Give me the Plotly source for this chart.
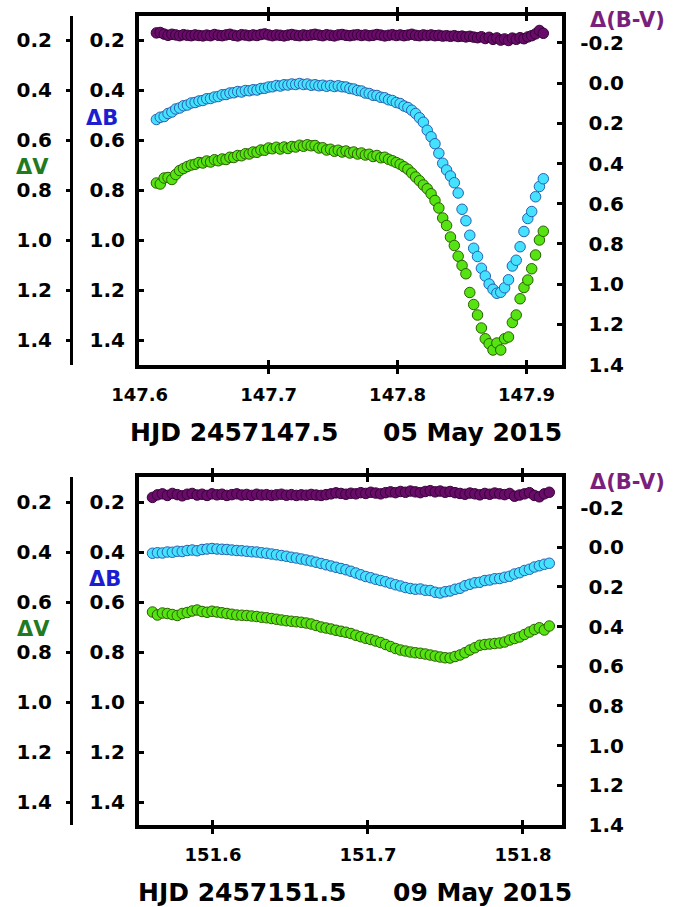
import plotly.graph_objects as go

# ---------------- 05 May 2015 (HJD 2457147.5 + t) ----------------
t_may05 = [147.613, 147.616, 147.619, 147.622, 147.625, 147.628, 147.631, 147.634, 147.637, 147.640,
           147.643, 147.646, 147.649, 147.652, 147.655, 147.658, 147.661, 147.664, 147.667, 147.670,
           147.673, 147.676, 147.679, 147.682, 147.685, 147.688, 147.691, 147.694, 147.697, 147.700,
           147.703, 147.706, 147.709, 147.712, 147.715, 147.718, 147.721, 147.724, 147.727, 147.730,
           147.733, 147.736, 147.739, 147.742, 147.745, 147.748, 147.751, 147.754, 147.757, 147.760,
           147.763, 147.766, 147.769, 147.772, 147.775, 147.778, 147.781, 147.784, 147.787, 147.790,
           147.793, 147.796, 147.799, 147.802, 147.805, 147.808, 147.811, 147.814, 147.817, 147.820,
           147.823, 147.826, 147.829, 147.832, 147.835, 147.838, 147.841, 147.844, 147.847, 147.850,
           147.853, 147.856, 147.859, 147.862, 147.865, 147.868, 147.871, 147.874, 147.877, 147.880,
           147.883, 147.886, 147.889, 147.892, 147.895, 147.898, 147.901, 147.904, 147.907, 147.910,
           147.913]

dB_may05 = [0.518, 0.509, 0.506, 0.494, 0.488, 0.476, 0.472, 0.463, 0.460, 0.452,
            0.450, 0.444, 0.442, 0.435, 0.434, 0.428, 0.426, 0.419, 0.418, 0.412,
            0.411, 0.406, 0.408, 0.402, 0.403, 0.399, 0.400, 0.394, 0.393, 0.388,
            0.387, 0.382, 0.384, 0.379, 0.380, 0.376, 0.378, 0.374, 0.378, 0.376,
            0.381, 0.379, 0.383, 0.381, 0.385, 0.382, 0.386, 0.383, 0.387, 0.388,
            0.394, 0.396, 0.402, 0.404, 0.412, 0.414, 0.421, 0.422, 0.429, 0.431,
            0.439, 0.442, 0.450, 0.454, 0.464, 0.470, 0.481, 0.494, 0.511, 0.529,
            0.561, 0.587, 0.615, 0.653, 0.693, 0.720, 0.744, 0.771, 0.812, 0.877,
            0.923, 0.981, 1.033, 1.066, 1.113, 1.144, 1.176, 1.197, 1.213, 1.209,
            1.191, 1.159, 1.104, 1.081, 1.027, 0.966, 0.914, 0.886, 0.827, 0.786,
            0.755]

dV_may05 = [0.772, 0.776, 0.752, 0.750, 0.758, 0.738, 0.722, 0.714, 0.706, 0.700,
            0.697, 0.690, 0.692, 0.684, 0.688, 0.679, 0.683, 0.676, 0.678, 0.669,
            0.670, 0.662, 0.663, 0.655, 0.656, 0.648, 0.649, 0.640, 0.641, 0.632,
            0.635, 0.629, 0.636, 0.628, 0.634, 0.626, 0.628, 0.621, 0.625, 0.619,
            0.623, 0.622, 0.632, 0.631, 0.640, 0.637, 0.645, 0.641, 0.648, 0.644,
            0.652, 0.648, 0.656, 0.652, 0.660, 0.657, 0.666, 0.662, 0.671, 0.669,
            0.677, 0.683, 0.690, 0.697, 0.707, 0.717, 0.732, 0.748, 0.763, 0.780,
            0.795, 0.815, 0.842, 0.872, 0.912, 0.942, 0.988, 1.022, 1.065, 1.102,
            1.135, 1.210, 1.258, 1.300, 1.352, 1.395, 1.415, 1.440, 1.412, 1.440,
            1.395, 1.388, 1.330, 1.300, 1.235, 1.190, 1.160, 1.115, 1.060, 1.000,
            0.965]

dBV_may05 = [-0.250, -0.252, -0.244, -0.238, -0.243, -0.240, -0.236, -0.241, -0.238, -0.236,
             -0.240, -0.237, -0.235, -0.239, -0.236, -0.242, -0.238, -0.236, -0.240, -0.243,
             -0.238, -0.235, -0.241, -0.239, -0.236, -0.240, -0.237, -0.242, -0.245, -0.240,
             -0.236, -0.240, -0.238, -0.235, -0.239, -0.242, -0.238, -0.236, -0.240, -0.237,
             -0.240, -0.243, -0.239, -0.236, -0.241, -0.238, -0.235, -0.240, -0.242, -0.238,
             -0.236, -0.239, -0.241, -0.237, -0.240, -0.236, -0.238, -0.242, -0.239, -0.235,
             -0.238, -0.241, -0.237, -0.240, -0.236, -0.239, -0.243, -0.238, -0.236, -0.240,
             -0.237, -0.240, -0.236, -0.238, -0.234, -0.236, -0.233, -0.236, -0.232, -0.234,
             -0.230, -0.233, -0.229, -0.226, -0.231, -0.222, -0.228, -0.218, -0.225, -0.214,
             -0.220, -0.212, -0.224, -0.218, -0.226, -0.221, -0.230, -0.236, -0.245, -0.262,
             -0.248]

# ---------------- 09 May 2015 (HJD 2457151.5 + t) ----------------
t_may09 = [151.5610, 151.5642, 151.5674, 151.5706, 151.5738, 151.5770, 151.5802, 151.5834, 151.5866, 151.5898,
           151.5930, 151.5962, 151.5994, 151.6026, 151.6058, 151.6090, 151.6122, 151.6154, 151.6186, 151.6218,
           151.6250, 151.6282, 151.6314, 151.6346, 151.6378, 151.6410, 151.6442, 151.6474, 151.6506, 151.6538,
           151.6570, 151.6602, 151.6634, 151.6666, 151.6698, 151.6730, 151.6762, 151.6794, 151.6826, 151.6858,
           151.6890, 151.6922, 151.6954, 151.6986, 151.7018, 151.7050, 151.7082, 151.7114, 151.7146, 151.7178,
           151.7210, 151.7242, 151.7274, 151.7306, 151.7338, 151.7370, 151.7402, 151.7434, 151.7466, 151.7498,
           151.7530, 151.7562, 151.7594, 151.7626, 151.7658, 151.7690, 151.7722, 151.7754, 151.7786, 151.7818,
           151.7850, 151.7882, 151.7914, 151.7946, 151.7978, 151.8010, 151.8042, 151.8074, 151.8106, 151.8138,
           151.8170]

dB_may09 = [0.405, 0.403, 0.404, 0.400, 0.401, 0.397, 0.398, 0.394, 0.392, 0.395,
            0.390, 0.388, 0.386, 0.388, 0.389, 0.390, 0.392, 0.394, 0.395, 0.397,
            0.399, 0.400, 0.403, 0.405, 0.408, 0.411, 0.414, 0.417, 0.421, 0.424,
            0.428, 0.432, 0.436, 0.441, 0.446, 0.451, 0.456, 0.461, 0.466, 0.471,
            0.477, 0.484, 0.491, 0.498, 0.503, 0.509, 0.514, 0.519, 0.525, 0.531,
            0.536, 0.542, 0.546, 0.549, 0.548, 0.553, 0.554, 0.561, 0.564, 0.559,
            0.556, 0.549, 0.545, 0.535, 0.529, 0.523, 0.521, 0.514, 0.512, 0.507,
            0.506, 0.501, 0.497, 0.488, 0.483, 0.474, 0.469, 0.460, 0.455, 0.449,
            0.445]

dV_may09 = [0.640, 0.652, 0.644, 0.646, 0.650, 0.654, 0.646, 0.642, 0.636, 0.632,
            0.638, 0.641, 0.637, 0.640, 0.643, 0.646, 0.649, 0.652, 0.653, 0.654,
            0.656, 0.658, 0.661, 0.663, 0.666, 0.669, 0.672, 0.675, 0.677, 0.679,
            0.681, 0.684, 0.688, 0.694, 0.700, 0.704, 0.708, 0.713, 0.717, 0.721,
            0.726, 0.733, 0.739, 0.745, 0.750, 0.756, 0.762, 0.770, 0.778, 0.786,
            0.792, 0.796, 0.800, 0.803, 0.805, 0.808, 0.812, 0.816, 0.820, 0.823,
            0.824, 0.818, 0.812, 0.803, 0.792, 0.783, 0.773, 0.770, 0.768, 0.766,
            0.764, 0.760, 0.752, 0.746, 0.740, 0.730, 0.720, 0.710, 0.703, 0.712,
            0.696]

dBV_may09 = [-0.252, -0.265, -0.270, -0.262, -0.272, -0.266, -0.260, -0.268, -0.272, -0.264,
             -0.268, -0.262, -0.270, -0.265, -0.268, -0.262, -0.266, -0.270, -0.264, -0.267,
             -0.262, -0.268, -0.264, -0.266, -0.262, -0.265, -0.268, -0.263, -0.266, -0.262,
             -0.265, -0.263, -0.267, -0.264, -0.262, -0.266, -0.270, -0.275, -0.272, -0.268,
             -0.273, -0.270, -0.276, -0.272, -0.278, -0.274, -0.270, -0.276, -0.280, -0.276,
             -0.282, -0.278, -0.284, -0.280, -0.276, -0.282, -0.286, -0.280, -0.284, -0.278,
             -0.282, -0.276, -0.272, -0.268, -0.274, -0.270, -0.265, -0.272, -0.268, -0.274,
             -0.270, -0.266, -0.272, -0.258, -0.264, -0.270, -0.276, -0.262, -0.255, -0.270,
             -0.278]

# ---------------- axis ticks ----------------
mag_ticks = [0.2, 0.4, 0.6, 0.8, 1.0, 1.2, 1.4]
mag_labels = ["0.2", "0.4", "0.6", "0.8", "1.0", "1.2", "1.4"]
col_ticks = [-0.2, 0.0, 0.2, 0.4, 0.6, 0.8, 1.0, 1.2, 1.4]
col_labels = ["-0.2", "0.0", "0.2", "0.4", "0.6", "0.8", "1.0", "1.2", "1.4"]
x_ticks_may05 = [147.6, 147.7, 147.8, 147.9]
x_ticks_may09 = [151.6, 151.7, 151.8]

W, H = 680, 907
FONT = "DejaVu Sans"
PURPLE = dict(color="#690c69", line=dict(color="#38003a", width=1))
CYAN = dict(color="#44e2ff", line=dict(color="#2a5fb0", width=1))
GREEN = dict(color="#55e312", line=dict(color="#2a6000", width=1))
MSIZE = 10.5

fig = go.Figure()


def add_panel(fig, xa, ya, t, dB, dV, dBV):
    """ya = (dB axis, B-V frame axis, dV axis, B-V label axis)."""
    yb, ybv, yv, ylab = ya
    fig.add_trace(go.Scatter(x=t, y=dBV, xaxis=xa, yaxis=ybv, mode="markers",
                             marker=dict(size=MSIZE, **PURPLE), showlegend=False))
    fig.add_trace(go.Scatter(x=t, y=dB, xaxis=xa, yaxis=yb, mode="markers",
                             marker=dict(size=MSIZE, **CYAN), showlegend=False))
    fig.add_trace(go.Scatter(x=t, y=dV, xaxis=xa, yaxis=yv, mode="markers",
                             marker=dict(size=MSIZE, **GREEN), showlegend=False))
    fig.add_trace(go.Scatter(x=[], y=[], xaxis=xa, yaxis=ylab, mode="markers",
                             showlegend=False, hoverinfo="skip"))


add_panel(fig, "x", ("y", "y2", "y3", "y4"), t_may05, dB_may05, dV_may05, dBV_may05)
add_panel(fig, "x2", ("y5", "y6", "y7", "y8"), t_may09, dB_may09, dV_may09, dBV_may09)

xdom = [139 / W, 562 / W]
dom1 = [1 - 365 / H, 1 - 16 / H]
dom2 = [1 - 825 / H, 1 - 477 / H]

tickfont = dict(family=FONT, size=20, color="black", weight="bold")
xtickfont = dict(family=FONT, size=18, color="black", weight="bold")
frame = dict(showline=True, linecolor="black", linewidth=4, ticks="inside",
             ticklen=5, tickwidth=3, tickcolor="black", showgrid=False,
             zeroline=False, automargin=False)


def xaxis(domain, rng, tv, anchor):
    return dict(domain=domain, range=rng, anchor=anchor, tickvals=tv,
                ticktext=[f"{v:.1f}" for v in tv], tickfont=xtickfont,
                mirror="allticks", ticklabelstandoff=10, **frame)


def mag_axis(dom, rng, anchor):
    return dict(domain=dom, range=rng, anchor=anchor, side="left",
                tickvals=mag_ticks, ticktext=mag_labels, tickfont=tickfont,
                ticklabelstandoff=6, **frame)


def col_frame_axis(dom, rng, anchor, over):
    return dict(domain=dom, range=rng, anchor=anchor, overlaying=over, side="right",
                tickvals=col_ticks, showticklabels=False, **frame)


def dv_axis(dom, rng, over):
    return dict(domain=dom, range=rng, anchor="free", overlaying=over, side="left",
                position=71 / W, showline=True, linecolor="black", linewidth=3,
                ticks="outside", ticklen=4, tickwidth=3, tickcolor="black",
                tickvals=mag_ticks, ticktext=mag_labels, tickfont=tickfont,
                ticklabelstandoff=10, showgrid=False, zeroline=False, automargin=False)


def col_label_axis(dom, rng, over):
    # labels sit to the left of this invisible axis, so they are right-aligned
    return dict(domain=dom, range=rng, anchor="free", overlaying=over, side="left",
                position=624 / W, showline=False, ticks="",
                tickvals=col_ticks, ticktext=col_labels, tickfont=tickfont,
                showgrid=False, zeroline=False, automargin=False)


mag1 = [1.5, 0.104]
col1 = [1.402, -0.334]
mag2 = [1.492, 0.1]
col2 = [1.401, -0.355]

fig.update_layout(
    template="none",
    width=W, height=H, margin=dict(l=0, r=0, t=0, b=0, autoexpand=False),
    paper_bgcolor="white", plot_bgcolor="white", showlegend=False,
    xaxis=xaxis(xdom, [147.5995, 147.9275], x_ticks_may05, "y"),
    yaxis=mag_axis(dom1, mag1, "x"),
    yaxis2=col_frame_axis(dom1, col1, "x", "y"),
    yaxis3=dv_axis(dom1, mag1, "y"),
    yaxis4=col_label_axis(dom1, col1, "y"),
    xaxis2=xaxis(xdom, [151.5523, 151.8252], x_ticks_may09, "y5"),
    yaxis5=mag_axis(dom2, mag2, "x2"),
    yaxis6=col_frame_axis(dom2, col2, "x2", "y5"),
    yaxis7=dv_axis(dom2, mag2, "y5"),
    yaxis8=col_label_axis(dom2, col2, "y5"),
)


def label(text, xpx, ypx, color, size=21, xanchor="center"):
    fig.add_annotation(text=text, x=xpx / W, y=1 - ypx / H, xref="paper", yref="paper",
                       xanchor=xanchor, yanchor="middle", showarrow=False, borderpad=0,
                       font=dict(family=FONT, size=size, color=color, weight="bold"))


BLUE_T, GREEN_T, PURPLE_T = "#1c1cd0", "#217a1f", "#7a1f7c"

label("ΔB", 102, 118, BLUE_T)
label("ΔV", 32, 167, GREEN_T)
label("Δ(B-V)", 627, 20, PURPLE_T)
label("HJD 2457147.5", 129, 432, "black", size=25, xanchor="left")
label("05 May 2015", 382, 432, "black", size=25, xanchor="left")

label("ΔB", 105, 579, BLUE_T)
label("ΔV", 33, 629, GREEN_T)
label("Δ(B-V)", 627, 482, PURPLE_T)
label("HJD 2457151.5", 137, 892, "black", size=25, xanchor="left")
label("09 May 2015", 392, 892, "black", size=25, xanchor="left")

fig.write_html("out.html")
